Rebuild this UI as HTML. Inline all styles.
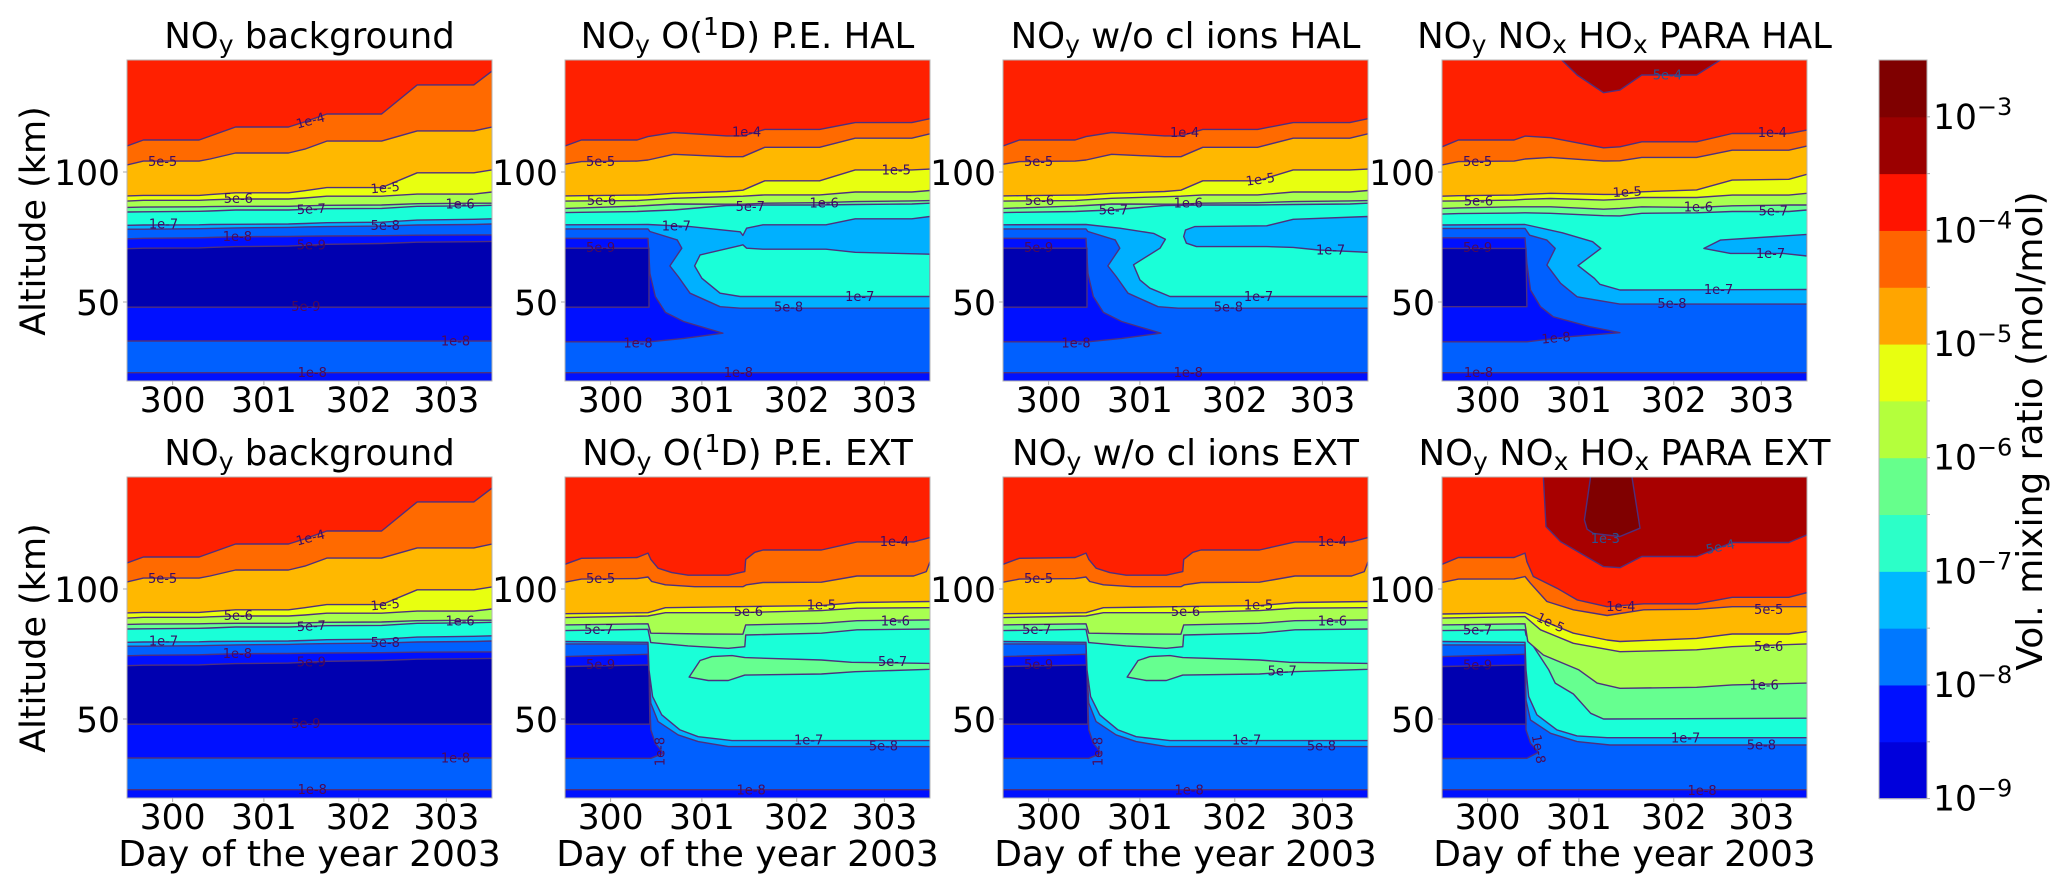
<!DOCTYPE html>
<html lang="en">
<head>
<meta charset="utf-8">
<title>NOy volume mixing ratio contour panels</title>
<style>
html,body{margin:0;padding:0;background:#fff;}
svg{display:block;font-family:"DejaVu Sans","Liberation Sans",sans-serif;fill:#000;}
.ttl{font-size:35.5px;text-anchor:middle;}
.axl{font-size:36px;text-anchor:middle;}
</style>
</head>
<body>
<svg id="figure" xmlns="http://www.w3.org/2000/svg" width="2067" height="892" viewBox="0 0 2067 892">
  <rect x="0" y="0" width="2067" height="892" fill="#fff"/>
  <g id="p0"><text class="ttl" x="309.5" y="48">NO<tspan dy="5" font-size="25">y</tspan><tspan dy="-5"> background</tspan></text></g>
  <g id="p1"><text class="ttl" x="747.5" y="48">NO<tspan dy="5" font-size="25">y</tspan><tspan dy="-5"> O(</tspan><tspan dy="-13" font-size="25">1</tspan><tspan dy="13">D) P.E. HAL</tspan></text></g>
  <g id="p2"><text class="ttl" x="1185.5" y="48">NO<tspan dy="5" font-size="25">y</tspan><tspan dy="-5"> w/o cl ions HAL</tspan></text></g>
  <g id="p3"><text class="ttl" x="1624.5" y="48">NO<tspan dy="5" font-size="25">y</tspan><tspan dy="-5"> NO</tspan><tspan dy="5" font-size="25">x</tspan><tspan dy="-5"> HO</tspan><tspan dy="5" font-size="25">x</tspan><tspan dy="-5"> PARA HAL</tspan></text></g>
  <g id="p4"><text class="ttl" x="309.5" y="465">NO<tspan dy="5" font-size="25">y</tspan><tspan dy="-5"> background</tspan></text></g>
  <g id="p5"><text class="ttl" x="747.5" y="465">NO<tspan dy="5" font-size="25">y</tspan><tspan dy="-5"> O(</tspan><tspan dy="-13" font-size="25">1</tspan><tspan dy="13">D) P.E. EXT</tspan></text></g>
  <g id="p6"><text class="ttl" x="1185.5" y="465">NO<tspan dy="5" font-size="25">y</tspan><tspan dy="-5"> w/o cl ions EXT</tspan></text></g>
  <g id="p7"><text class="ttl" x="1624.5" y="465">NO<tspan dy="5" font-size="25">y</tspan><tspan dy="-5"> NO</tspan><tspan dy="5" font-size="25">x</tspan><tspan dy="-5"> HO</tspan><tspan dy="5" font-size="25">x</tspan><tspan dy="-5"> PARA EXT</tspan></text></g>

  <text class="axl" transform="translate(45,221) rotate(-90)" style="font-size:35px">Altitude (km)</text>
  <text class="axl" transform="translate(45,638) rotate(-90)" style="font-size:35px">Altitude (km)</text>
  <text class="axl" x="309.5" y="866">Day of the year 2003</text>
  <text class="axl" x="747.5" y="866">Day of the year 2003</text>
  <text class="axl" x="1185.5" y="866">Day of the year 2003</text>
  <text class="axl" x="1624.5" y="866">Day of the year 2003</text>
  <g id="colorbar"></g>
  <text class="axl" transform="translate(2042,431) rotate(-90)">Vol. mixing ratio (mol/mol)</text>
</svg>
<script>
/* ---------- scales, ticks and colour levels ---------- */
const bandColors = ['#0000b0','#0010ff','#0060ff','#00b0ff','#1affd8','#66ff90','#a8ff50','#e8ff10','#ffb800','#ff6a00','#ff2000','#a80000','#800000'];
const colorbarColors = ['#0000dc','#0010ff','#0078ff','#00b8ff','#2cffc8','#66ff8c','#b4ff3c','#e8ff10','#ffa500','#ff6400','#ff1400','#9b0000','#7f0000'];
const colorbarExponents = [-9,-8,-7,-6,-5,-4,-3];
const dayTickValues = [300,301,302.04,303];
const dayTickLabels = ['300','301','302','303'];
const altitudeTicks = [50,100];

/* ---------- contour lines: [band above line, kind, days, altitudes km] ---------- */
const dayGrid = [299.5,299.68,300.29,300.41,300.69,301.27,301.45,301.69,302.29,302.68,303.3,303.5];
const edgeDays = [299.5,303.5];
const stripDays = [299.5,303.5,303.5,299.5];
const stripKm = [22.8,22.8,19,19];

/* background */
const bg1e4 = [110,112.3,112.3,113.8,117.3,117.3,119.3,122.3,122.3,133.5,133.5,138.8];
const bg5e5 = [102.7,104.2,104.2,105,107.3,107.3,108.8,111.9,111.9,115.8,115.8,117.3];
const bg1e5 = [90.8,91,91,91.3,92,92,92.8,94,94,99.7,99.7,100.8];
const bg5e6 = [88.8,89.1,89.1,89.3,89.6,89.6,90,90.7,90.7,91.5,91.5,92.3];
const bg1e6 = [86.4,86.5,86.6,86.7,86.8,86.8,87,87.2,87.3,87.8,88,88];
const bg5e7 = [84.6,84.7,84.9,85,85.4,85.4,85.6,85.9,86,86.8,87,87.2];
const bg1e7 = [79.5,79.6,79.7,79.8,79.9,80,80.2,80.5,80.7,81.5,81.8,82];
const bg5e8 = [78,78,78.2,78.3,78.5,78.7,78.9,79,79.2,79.6,79.8,80];
const bg1e8 = [74.3,74.5,74.7,74.8,75.1,75.2,75.3,75.4,75.5,75.7,75.8,75.8];
const bg5e9 = [70.5,70.7,70.8,71,71.3,71.5,71.8,72.2,72.5,73,73.2,73.3];
const backgroundContours = [
  [2,'above',edgeDays,[22.8,22.8]],
  [1,'above',edgeDays,[35,35]],
  [0,'above',edgeDays,[48,48]],
  [1,'above',dayGrid,bg5e9],
  [2,'above',dayGrid,bg1e8],
  [3,'above',dayGrid,bg5e8],
  [4,'above',dayGrid,bg1e7],
  [5,'above',dayGrid,bg5e7],
  [6,'above',dayGrid,bg1e6],
  [7,'above',dayGrid,bg5e6],
  [8,'above',dayGrid,bg1e5],
  [9,'above',dayGrid,bg5e5],
  [10,'above',dayGrid,bg1e4]
];
const backgroundLabels = [
  ['1e-4',301.51,119.8,-15],['5e-5',299.89,104,0],['1e-5',302.33,94,-5],['5e-6',300.72,89.9,0],
  ['5e-7',301.52,85.8,-3],['1e-7',299.9,80,0],['1e-8',300.71,75.2,0],['5e-9',301.52,72,0],
  ['5e-8',302.33,79.4,0],['5e-9',301.46,48.3,0],['1e-6',303.15,87.6,0],['1e-8',301.53,22.8,0],['1e-8',303.1,35,0]
];

/* HAL shared */
const hal1e4 = [110,112.3,112.3,113.6,115.2,113.9,113.9,116.4,116.4,119,119,120.5];
const hal5e5 = [103,104,104.2,104.6,106.8,105.9,105.9,109.5,109.5,113,113,114.7];
const hal1e5 = [90.8,90.9,91.1,91.2,91.8,92.5,93,96.6,96.6,100.8,100.8,101.1];
const hal5e6 = [88.8,88.9,89,89.3,89.9,90.5,90.7,91.2,91.2,92.3,92.3,92.9];
const hal1e6 = [86,86.2,86.9,87.1,87.7,87.6,87.6,88,88.2,88.6,88.9,89];
const hal5e7 = [84.4,84.5,84.8,85,85.4,87.1,87.2,87.3,87.3,87.5,87.7,88];
const halBox1Days = [299.5,300.41,300.43,300.49,300.6,300.8,301.23,300.8,300.43,299.5];
const halBox1Km = [74.5,74.5,61,52.1,46,42.5,38,36,34.7,34.7];
const halBox0Days = [299.5,300.42,300.42,299.5];
const halBox0Km = [70.7,70.7,48,48];
const hal5e8Days = [299.5,300.41,300.43,300.73,300.78,300.65,300.74,300.87,301.2,301.42,303.5];
const hal5e8Km = [78.1,78.1,77.1,73.9,70.7,63.9,59.8,53.4,48.2,47.6,47.6];

/* O(1D) HAL */
const o1dHalUpperDays = [299.5,300.41,300.87,301.42,301.45,301.49,301.67,302.36,302.68,303.3,303.5];
const o1dHalUpperKm = [79.7,79.8,79,77,75.6,78.4,79.7,79.7,82,82,82.9];
const o1dHalLobeDays = [303.5,302.68,302.36,301.67,301.49,301.45,301.42,300.98,300.92,301,301.2,301.42,303.5];
const o1dHalLobeKm = [68.4,69.1,70.3,70.3,70.7,72,71.7,68.1,63.9,59.1,53.4,52.1,52.1];
const o1dHalContours = [
  [1,'closed',stripDays,stripKm],
  [1,'closed',halBox1Days,halBox1Km],
  [0,'closed',halBox0Days,halBox0Km],
  [3,'above',hal5e8Days,hal5e8Km],
  [4,'above',o1dHalUpperDays,o1dHalUpperKm],
  [4,'closed',o1dHalLobeDays,o1dHalLobeKm],
  [5,'above',dayGrid,hal5e7],
  [6,'above',dayGrid,hal1e6],
  [7,'above',dayGrid,hal5e6],
  [8,'above',dayGrid,hal1e5],
  [9,'above',dayGrid,hal5e5],
  [10,'above',dayGrid,hal1e4]
];
const o1dHalLabels = [
  ['5e-5',299.89,104,0],['5e-6',299.9,89,0],['5e-9',299.89,71,0],['1e-7',300.72,79.3,0],
  ['1e-4',301.49,115.3,0],['5e-7',301.53,86.7,0],['1e-5',303.13,100.8,0],['1e-6',302.34,88,0],
  ['1e-7',302.73,52.1,0],['5e-8',301.95,48,0],['1e-8',300.3,34.3,0],['1e-8',301.4,22.8,0]
];

/* w/o cl ions HAL */
const ionsHal1e7Days = [299.5,300.41,300.78,301.15,301.28,301.22,300.93,301,301.11,301.33,303.5];
const ionsHal1e7Km = [79.7,79.8,78.4,76.4,74.1,70.7,64.3,58.5,55.3,52.1,52.1];
const ionsHalBlobDays = [301.48,301.5,301.6,302.39,302.68,303.5,303.5,302.96,302.68,302.39,301.62,301.51];
const ionsHalBlobKm = [75.2,77.7,79,79.3,81.8,82.9,69.1,70,71,71.3,71.3,72.6];
const ionsHalContours = [
  [1,'closed',stripDays,stripKm],
  [1,'closed',halBox1Days,halBox1Km],
  [0,'closed',halBox0Days,halBox0Km],
  [3,'above',hal5e8Days,hal5e8Km],
  [4,'above',ionsHal1e7Days,ionsHal1e7Km],
  [3,'closed',ionsHalBlobDays,ionsHalBlobKm],
  [5,'above',dayGrid,hal5e7],
  [6,'above',dayGrid,hal1e6],
  [7,'above',dayGrid,hal5e6],
  [8,'above',dayGrid,hal1e5],
  [9,'above',dayGrid,hal5e5],
  [10,'above',dayGrid,hal1e4]
];
const ionsHalLabels = [
  ['5e-5',299.89,104,0],['5e-6',299.9,89,0],['5e-9',299.89,71,0],['1e-4',301.49,115.2,0],
  ['1e-5',302.32,97.2,-8],['5e-7',300.71,85.4,0],['1e-6',301.53,88,0],['1e-7',303.09,70,0],
  ['1e-7',302.3,52.1,0],['5e-8',301.97,48,0],['1e-8',300.3,34.3,0],['1e-8',301.53,22.8,0]
];

/* NOx HOx PARA HAL */
const para1e4 = [109.7,112.3,112.3,113.8,113.2,109.3,109.7,111.6,111.6,114.8,114.8,116.1];
const para5e5 = [102.7,104,104.2,105,105.6,104.2,104.3,105.6,105.6,108.4,108.4,110];
const para1e5 = [90.7,90.9,91.1,91.4,91.8,91.4,91.4,92.4,93.1,96.9,97.2,99.1];
const para5e6 = [88.8,88.9,89.2,89.5,89.8,89.2,89.5,90.2,90.2,91.1,91.1,91.8];
const para1e6 = [86,86.2,86.6,86.6,86.6,85.7,86,86.6,86.4,87,87.3,87.3];
const para5e7 = [83.8,84,84.2,84.3,84.1,83.2,83.1,84.1,84.3,84.8,84.8,85.4];
const para1e7Days = [299.5,300.41,300.82,301.15,301.24,300.99,301.17,301.23,301.45,303.5];
const para1e7Km = [79.6,79.8,76.6,73.2,70.6,64,59.1,56.8,54.6,54.8];
const para5e8Days = [299.5,300.41,300.46,300.65,300.74,300.65,300.8,300.98,301.45,303.5];
const para5e8Km = [78.3,78.3,75.7,73.8,70.6,64.2,57.2,52,49.2,49.2];
const paraBox1Days = [299.5,300.41,300.43,300.47,300.58,300.72,301.12,301.45,300.88,300.43,299.5];
const paraBox1Km = [74.7,74.7,64.8,54.6,48.2,44.3,40.5,38.2,36.6,34.7,34.7];
const paraBox0Days = [299.5,300.42,300.43,299.5];
const paraBox0Km = [70.6,70.6,48.2,48.2];
const paraBlobDays = [302.37,302.55,303.5,303.5,303.24,302.66];
const paraBlobKm = [70.6,73.8,76,67.7,68.7,68.7];
const paraPeakDays = [300.8,300.98,301.27,301.45,301.69,302.29,302.57];
const paraPeakKm = [143.5,137.3,130.5,131.5,137.3,137.3,143.5];
const paraHalContours = [
  [1,'closed',stripDays,stripKm],
  [1,'closed',paraBox1Days,paraBox1Km],
  [0,'closed',paraBox0Days,paraBox0Km],
  [3,'above',para5e8Days,para5e8Km],
  [4,'above',para1e7Days,para1e7Km],
  [3,'closed',paraBlobDays,paraBlobKm],
  [5,'above',dayGrid,para5e7],
  [6,'above',dayGrid,para1e6],
  [7,'above',dayGrid,para5e6],
  [8,'above',dayGrid,para1e5],
  [9,'above',dayGrid,para5e5],
  [10,'above',dayGrid,para1e4],
  [11,'closed',paraPeakDays,paraPeakKm]
];
const paraHalLabels = [
  ['5e-4',301.97,137.3,0],['1e-4',303.12,115.1,0],['5e-5',299.89,104,0],['1e-5',301.53,92.4,-3],
  ['5e-6',299.9,88.9,0],['1e-6',302.31,86.6,0],['5e-7',303.13,85,0],['5e-9',299.89,71,0],
  ['1e-7',303.1,68.7,0],['1e-7',302.53,54.8,0],['5e-8',302.02,49.5,0],['1e-8',300.75,36.2,-5],['1e-8',299.9,22.8,0]
];

/* EXT shared by O(1D) and w/o cl ions */
const ext1e4Days = [299.5,299.68,300.29,300.41,300.44,300.52,300.67,300.85,301.29,301.47,301.48,301.58,301.67,302.31,302.7,303.32,303.5];
const ext1e4Km = [109.5,111.8,112.1,113.8,111.4,108,106.3,105.3,105.3,106.7,111.4,114.1,115,115,118.1,118.1,119.8];
const ext5e5Days = [299.5,299.68,300.29,300.41,300.45,300.6,300.92,301.45,301.49,301.67,302.31,302.7,303.32,303.46,303.5];
const ext5e5Km = [102.6,103.8,104,104.6,102.9,101.6,100.9,100.9,101.6,102.5,102.6,105,105,106.7,110.5];
const ext1e5Days = [299.5,300.41,300.6,301.36,302.31,302.7,303.5];
const ext1e5Km = [90.5,90.9,92.8,93.2,93.6,94.8,95.2];
const ext5e6Days = [299.5,300.41,300.6,301.4,302.31,302.7,303.5];
const ext5e6Km = [89,89.6,90.9,90.9,91.7,92.6,92.8];
const ext1e6Days = [299.5,300.41,300.44,301.03,301.45,301.48,302.31,302.7,303.5];
const ext1e6Km = [86.2,86.6,83,82.7,82.6,86.2,86.8,87.8,88.1];
const ext5e7Days = [299.5,300.41,300.44,300.85,301.29,301.47,301.48,302.31,302.7,303.5];
const ext5e7Km = [84,84.5,79.4,78.1,77.2,77.8,82.3,83,84.3,84.6];
const ext1e7Days = [299.5,300.41,300.42,300.46,300.56,300.76,300.96,301.33,303.5];
const ext1e7Km = [79.8,79.5,68.9,58.6,51.6,45.8,43.2,41.7,41.7];
const ext5e8Days = [299.5,300.41,300.42,300.44,300.52,300.74,300.96,301.29,303.5];
const ext5e8Km = [78.9,78.9,68,56.1,49,43.9,41.3,39.4,39.4];
const extBox1Days = [299.5,300.41,300.44,300.49,300.58,300.44,299.5];
const extBox1Km = [74,74.9,45.8,40.7,36.8,34.9,34.9];
const extBox0Days = [299.5,300.42,300.43,299.5];
const extBox0Km = [70.2,70.8,48,48];
const extBlobDays = [300.86,300.98,301.11,301.33,301.47,302.31,302.64,303.5,303.5,302.68,302.31,301.47,301.29,301.07];
const extBlobKm = [66.1,72.5,74,74.4,73.6,72.7,71.8,71.4,69.1,68.2,67.3,66.9,64.8,64.8];
const extContours = [
  [1,'closed',stripDays,stripKm],
  [1,'closed',extBox1Days,extBox1Km],
  [0,'closed',extBox0Days,extBox0Km],
  [3,'above',ext5e8Days,ext5e8Km],
  [4,'above',ext1e7Days,ext1e7Km],
  [5,'closed',extBlobDays,extBlobKm],
  [5,'above',ext5e7Days,ext5e7Km],
  [6,'above',ext1e6Days,ext1e6Km],
  [7,'above',ext5e6Days,ext5e6Km],
  [8,'above',ext1e5Days,ext1e5Km],
  [9,'above',ext5e5Days,ext5e5Km],
  [10,'above',ext1e4Days,ext1e4Km]
];
const o1dExtLabels = [
  ['1e-4',303.11,118.2,0],['5e-5',299.89,104.1,0],['1e-5',302.31,93.9,0],['5e-6',301.51,91.3,0],
  ['1e-6',303.12,87.7,0],['5e-7',299.87,84.5,0],['5e-7',303.09,72.1,0],['5e-9',299.89,71,0],
  ['1e-8',300.54,37.5,-90],['1e-7',302.17,42,0],['5e-8',302.99,39.6,0],['1e-8',301.54,22.7,0]
];
const ionsExtLabels = [
  ['1e-4',303.11,118.2,0],['5e-5',299.89,104.1,0],['1e-5',302.3,93.9,0],['5e-6',301.5,91.3,0],
  ['1e-6',303.11,87.6,0],['5e-7',299.87,84.5,0],['5e-7',302.56,68.5,0],['5e-9',299.89,71,0],
  ['1e-8',300.54,37.5,-90],['1e-7',302.17,42,0],['5e-8',302.99,39.6,0],['1e-8',301.54,22.7,0]
];

/* NOx HOx PARA EXT */
const paraExt1e4Days = [299.5,299.68,300.29,300.41,300.43,300.5,300.76,300.98,301.31,301.71,302.29,302.68,303.3,303.5];
const paraExt1e4Km = [109.5,112.1,112.1,113.8,110.5,104.8,100.3,95.8,93.2,94.3,94.3,96.8,96.8,98.6];
const paraExt5e5Days = [299.5,299.68,300.29,300.41,300.47,300.65,300.94,301.31,301.71,302.29,302.68,303.3,303.5];
const paraExt5e5Km = [102.5,103.8,103.9,104.8,102.2,95.2,92,89.8,92,92.2,93.2,93.2,93.2];
const paraExt1e5Days = [299.5,300.41,300.58,300.94,301.31,301.45,302.29,302.68,303.3,303.5];
const paraExt1e5Km = [90.4,90.9,88.1,83,80.4,79.8,81,82.7,82.7,83.6];
const paraExt5e6Days = [299.5,300.41,300.58,300.94,301.45,302.29,302.68,303.5];
const paraExt5e6Km = [88.8,89.4,84.3,79.1,75.9,76.6,77.8,78.9];
const paraExt1e6Days = [299.5,300.41,300.44,300.61,301,301.2,301.45,302.29,302.68,303.5];
const paraExt1e6Km = [86.2,86.6,79.8,74.6,68.9,63.8,61.8,62.2,63.1,63.8];
const paraExt5e7Days = [299.5,300.41,300.42,300.67,300.74,300.94,301.13,301.27,303.5];
const paraExt5e7Km = [84,84.3,82.3,68.9,63.8,59.6,52.2,50,50.3];
const paraExt1e7Days = [299.5,300.41,300.42,300.45,300.54,300.76,300.98,301.31,303.5];
const paraExt1e7Km = [79.8,79.5,68.9,58.6,51.6,45.8,43.5,42.8,42.8];
const paraExt5e8Days = [299.5,300.41,300.42,300.47,300.69,300.98,301.34,303.5];
const paraExt5e8Km = [78.5,78.5,57.3,49.6,44.5,41.3,40,40];
const paraExtBox1Days = [299.5,300.41,300.42,300.47,300.56,300.43,299.5];
const paraExtBox1Km = [74,74.9,45.8,40.7,37.2,34.9,34.8];
const paraExtBox0Days = [299.5,300.41,300.42,299.5];
const paraExtBox0Km = [70.2,70.8,48,48];
const paraExtPeak5e4Days = [300.61,300.64,300.8,301.27,301.45,301.69,302.29,302.68,303.3,303.5,303.6,300.61];
const paraExtPeak5e4Km = [143.5,124,118.2,108.6,108.2,112.5,112.5,117.9,117.9,120.8,143.5,143.5];
const paraExtPeak1e3Days = [301.13,301.06,301.09,301.16,301.45,301.67,301.58];
const paraExtPeak1e3Km = [143.5,126.6,123,121.4,120.2,123.4,143.5];
const paraExtContours = [
  [1,'closed',stripDays,stripKm],
  [1,'closed',paraExtBox1Days,paraExtBox1Km],
  [0,'closed',paraExtBox0Days,paraExtBox0Km],
  [3,'above',paraExt5e8Days,paraExt5e8Km],
  [4,'above',paraExt1e7Days,paraExt1e7Km],
  [5,'above',paraExt5e7Days,paraExt5e7Km],
  [6,'above',paraExt1e6Days,paraExt1e6Km],
  [7,'above',paraExt5e6Days,paraExt5e6Km],
  [8,'above',paraExt1e5Days,paraExt1e5Km],
  [9,'above',paraExt5e5Days,paraExt5e5Km],
  [10,'above',paraExt1e4Days,paraExt1e4Km],
  [11,'closed',paraExtPeak5e4Days,paraExtPeak5e4Km],
  [12,'closed',paraExtPeak1e3Days,paraExtPeak1e3Km]
];
const paraExtLabels = [
  ['1e-3',301.29,119.5,0],['5e-4',302.55,116.3,-12],['1e-4',301.46,93.2,0],['5e-5',303.08,92.2,0],
  ['1e-5',300.69,87.1,25],['5e-6',303.08,77.8,0],['1e-6',303.03,63.1,0],['1e-7',302.17,42.6,0],
  ['5e-8',303,40,0],['1e-8',300.56,38.4,80],['1e-8',302.35,22.5,0],['5e-7',299.89,84.3,0],['5e-9',299.89,70.8,0]
];

/* ---------- drawing ---------- */
const NS = 'http://www.w3.org/2000/svg';
const panelLefts = [127,565,1003,1442];
const rowTops = [60,477];
const panelW = 365, panelH = 321;
const panels = [
  {id:'p0',col:0,row:0,base:1,contours:backgroundContours,labels:backgroundLabels},
  {id:'p1',col:1,row:0,base:2,contours:o1dHalContours,labels:o1dHalLabels},
  {id:'p2',col:2,row:0,base:2,contours:ionsHalContours,labels:ionsHalLabels},
  {id:'p3',col:3,row:0,base:2,contours:paraHalContours,labels:paraHalLabels},
  {id:'p4',col:0,row:1,base:1,contours:backgroundContours,labels:backgroundLabels},
  {id:'p5',col:1,row:1,base:2,contours:extContours,labels:o1dExtLabels},
  {id:'p6',col:2,row:1,base:2,contours:extContours,labels:ionsExtLabels},
  {id:'p7',col:3,row:1,base:2,contours:paraExtContours,labels:paraExtLabels}
];
function mk(tag, attrs, parent) {
  const el = document.createElementNS(NS, tag);
  for (const k in attrs) el.setAttribute(k, attrs[k]);
  parent.appendChild(el);
  return el;
}
function labelColor(t) {
  if (t === '1e-3' || t === '5e-4') return '#2a5290';
  if (t === '5e-9' || t === '1e-8') return '#4c0a56';
  return '#3c0c64';
}
const svgRoot = document.getElementById('figure');
const defs = mk('defs', {}, svgRoot);
panels.forEach(function (p) {
  const g = document.getElementById(p.id);
  const left = panelLefts[p.col], top = rowTops[p.row];
  const xOf = function (day) { return left + (day - 299.5) * (panelW / 4); };
  const yOf = function (km) { return top + 112 + (100 - km) * 2.6; };
  const clip = mk('clipPath', {id: 'clip-' + p.id}, defs);
  mk('rect', {x: left, y: top, width: panelW, height: panelH}, clip);
  const plot = mk('g', {'clip-path': 'url(#clip-' + p.id + ')'}, g);
  
  
  const baseRect = mk('rect', {x: left, y: top, width: panelW, height: panelH, fill: bandColors[p.base]}, plot);
  
  
  p.contours.forEach(function (c) {
    const band = c[0], kind = c[1], days = c[2], kms = c[3];
    const pts = days.map(function (d, i) { return xOf(d).toFixed(1) + ' ' + yOf(kms[i]).toFixed(1); });
    const line = 'M' + pts.join('L');
    let fillPath;
    if (kind === 'above') {
      fillPath = line + 'L' + (left + panelW + 2) + ' ' + yOf(kms[kms.length - 1]).toFixed(1) +
        'L' + (left + panelW + 2) + ' ' + (top - 2) + 'L' + (left - 2) + ' ' + (top - 2) +
        'L' + (left - 2) + ' ' + yOf(kms[0]).toFixed(1) + 'Z';
    } else {
      fillPath = line + 'Z';
    }
    const area = mk('path', {d: fillPath, fill: bandColors[band]}, plot);
    
    
    const edge = mk('path', {d: kind === 'above' ? line : line + 'Z', fill: 'none', stroke: '#4e2f7e', 'stroke-width': 1.4, 'stroke-linejoin': 'round'}, plot);
    
    
  });
  p.labels.forEach(function (l) {
    const x = xOf(l[1]), y = yOf(l[2]);
    const t = mk('text', {x: x, y: y + 4.5, 'font-size': 13, 'text-anchor': 'middle', fill: labelColor(l[0])}, g);
    if (l[3]) t.setAttribute('transform', 'rotate(' + l[3] + ' ' + x + ' ' + y + ')');
    t.textContent = l[0];
    
    
  });
  const spine = mk('rect', {x: left, y: top, width: panelW, height: panelH, fill: 'none', stroke: '#b4b4b4', 'stroke-width': 1}, g);
  
  
  dayTickValues.forEach(function (d, i) {
    const x = xOf(d);
    const tick = mk('line', {x1: x, x2: x, y1: top + panelH, y2: top + panelH + 4, stroke: '#aaa', 'stroke-width': 1}, g);
    
    
    const t = mk('text', {x: x, y: top + panelH + 31, 'font-size': 34.5, 'text-anchor': 'middle'}, g);
    t.textContent = dayTickLabels[i];
    
    
  });
  altitudeTicks.forEach(function (a) {
    const y = yOf(a);
    const tick = mk('line', {x1: left - 4, x2: left, y1: y, y2: y, stroke: '#aaa', 'stroke-width': 1}, g);
    
    
    const t = mk('text', {x: left - 7, y: y + 13, 'font-size': 34.5, 'text-anchor': 'end'}, g);
    t.textContent = String(a);
    
    
  });
});

/* colorbar */
const cb = document.getElementById('colorbar');
const cbX = 1879, cbW = 48, cbTop = 60, cbBottom = 798.6;
const cbStep = (cbBottom - cbTop) / colorbarColors.length;
colorbarColors.forEach(function (col, i) {
  const seg = mk('rect', {x: cbX, y: cbBottom - (i + 1) * cbStep, width: cbW, height: cbStep + 0.5, fill: col}, cb);
  
  
  const tick = mk('line', {x1: cbX + cbW, x2: cbX + cbW + 3, y1: cbBottom - i * cbStep, y2: cbBottom - i * cbStep, stroke: '#aaa', 'stroke-width': 1}, cb);
  
  
});
const cbFrame = mk('rect', {x: cbX, y: cbTop, width: cbW, height: cbBottom - cbTop, fill: 'none', stroke: '#b4b4b4', 'stroke-width': 1}, cb);


colorbarExponents.forEach(function (e) {
  const y = cbBottom - (e + 9) * 2 * cbStep;
  const t = mk('text', {x: 1933, y: y + 12, 'font-size': 34.5}, cb);
  
  
  t.appendChild(document.createTextNode('10'));
  const s = mk('tspan', {dy: -14, 'font-size': 24}, t);
  s.textContent = '\u2212' + Math.abs(e);
});
</script>
</body>
</html>
